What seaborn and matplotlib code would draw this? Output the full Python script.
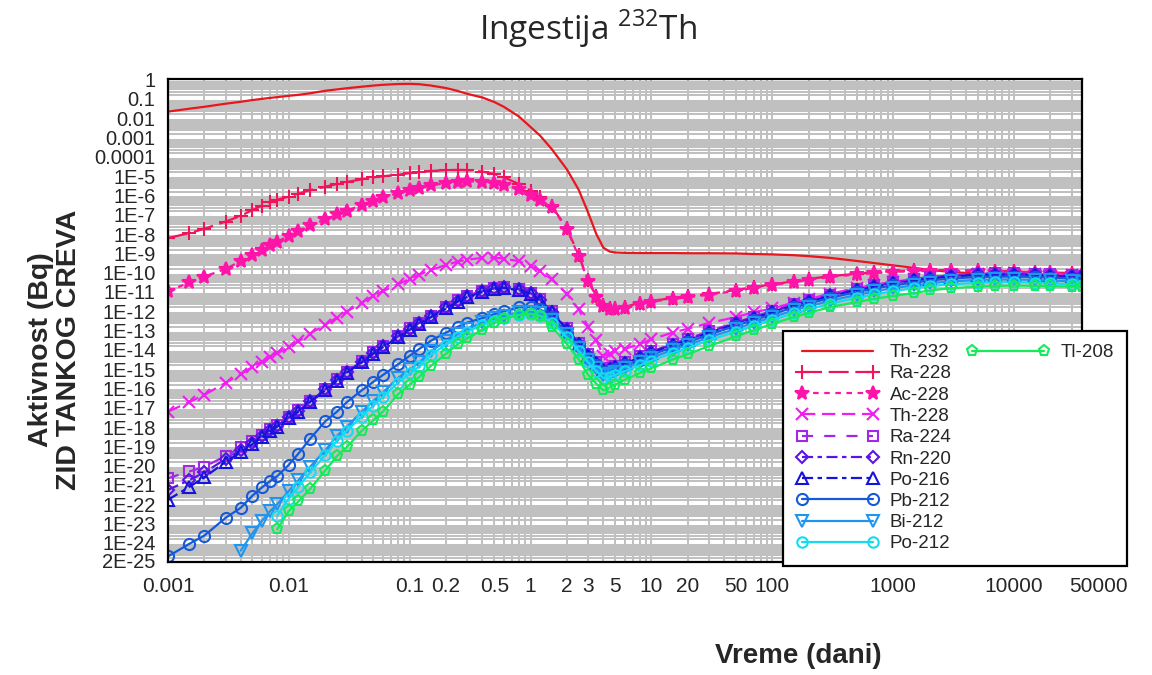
import numpy as np
import pandas as pd
import matplotlib
matplotlib.use("Agg")
import matplotlib.pyplot as plt
import matplotlib.transforms as mtransforms
import seaborn as sns
from matplotlib.ticker import FixedLocator, FixedFormatter, LogLocator, NullFormatter
from matplotlib.lines import Line2D

# ---------------- data (time in days, activity as log10 of Bq) ----------------
time_days = [0.001, 0.0015, 0.002, 0.003, 0.004, 0.005, 0.006, 0.007, 0.008, 0.01,
             0.012, 0.015, 0.02, 0.025, 0.03, 0.04, 0.05, 0.06, 0.08, 0.1,
             0.12, 0.15, 0.2, 0.25, 0.3, 0.4, 0.5, 0.6, 0.8, 1,
             1.2, 1.5, 2, 2.5, 3, 3.5, 4, 4.5, 5, 6,
             8, 10, 15, 20, 30, 50, 70, 100, 150, 200,
             300, 500, 700, 1000, 1500, 2000, 3000, 5000, 7000, 10000,
             15000, 20000, 30000, 36500]

nan = float("nan")

th232_log = [-1.55, -1.40, -1.30, -1.14, -1.04, -0.95, -0.89, -0.84, -0.80, -0.73,
             -0.68, -0.60, -0.47, -0.40, -0.34, -0.26, -0.20, -0.16, -0.12, -0.11,
             -0.13, -0.20, -0.33, -0.48, -0.63, -0.82, -1.05, -1.30, -1.80, -2.35,
             -2.80, -3.50, -4.55, -5.60, -6.80, -7.90, -8.60, -8.80, -8.85, -8.87,
             -8.88, -8.88, -8.88, -8.89, -8.89, -8.90, -8.93, -8.95, -8.99, -9.04,
             -9.13, -9.29, -9.40, -9.52, -9.65, -9.75, -9.86, -9.95, -10.0, -10.03,
             -10.06, -10.08, -10.10, -10.10]

ra228_log = [-8.10, -7.85, -7.62, -7.25, -6.95, -6.65, -6.42, -6.25, -6.12, -5.95,
             -5.80, -5.62, -5.44, -5.30, -5.20, -5.06, -4.96, -4.90, -4.82, -4.74,
             -4.68, -4.63, -4.58, -4.57, -4.58, -4.66, -4.78, -4.95, -5.30, -5.65,
             -6.00, -6.45, -7.60, -9.00, -10.30, -11.10, -11.55, -11.72, -11.74, -11.68,
             -11.45, -11.35, -11.22, -11.13, -11.00, -10.80, -10.65, -10.50, -10.35, -10.22,
             -10.08, -9.95, -9.88, -9.82, -9.78, -9.77, -9.77, -9.78, -9.80, -9.83,
             -9.86, -9.88, -9.92, -9.93]

ac228_log = [-10.87, -10.40, -10.10, -9.70, -9.30, -8.97, -8.70, -8.47, -8.30, -7.98,
             -7.72, -7.44, -7.14, -6.88, -6.68, -6.40, -6.17, -6.00, -5.78, -5.62,
             -5.50, -5.37, -5.25, -5.19, -5.16, -5.18, -5.24, -5.33, -5.55, -5.85,
             -6.12, -6.50, -7.65, -9.05, -10.35, -11.15, -11.60, -11.76, -11.78, -11.72,
             -11.50, -11.40, -11.26, -11.17, -11.04, -10.84, -10.69, -10.54, -10.39, -10.26,
             -10.12, -9.99, -9.92, -9.86, -9.82, -9.81, -9.81, -9.82, -9.84, -9.87,
             -9.90, -9.92, -9.96, -9.97]

th228_log = [-17.10, -16.60, -16.23, -15.60, -15.15, -14.78, -14.50, -14.25, -14.08, -13.75,
             -13.45, -13.05, -12.60, -12.22, -11.92, -11.45, -11.10, -10.85, -10.50, -10.22,
             -10.00, -9.75, -9.50, -9.32, -9.22, -9.13, -9.12, -9.17, -9.30, -9.55,
             -9.80, -10.25, -11.00, -11.80, -12.70, -13.40, -14.20, -14.10, -13.95, -13.85,
             -13.60, -13.35, -13.00, -12.80, -12.50, -12.20, -11.95, -11.75, -11.45, -11.27,
             -10.98, -10.70, -10.52, -10.37, -10.22, -10.13, -10.04, -9.97, -9.95, -9.95,
             -9.97, -10.00, -10.04, -10.06]

ra224_log = [-20.55, -20.20, -19.95, -19.40, -18.95, -18.60, -18.30, -18.00, -17.80, -17.38,
             -17.03, -16.53, -15.93, -15.43, -15.03, -14.48, -14.03, -13.68, -13.18, -12.78,
             -12.48, -12.13, -11.68, -11.33, -11.08, -10.83, -10.68, -10.63, -10.73, -10.93,
             -11.28, -11.88, -12.78, -13.53, -14.13, -14.53, -14.88, -14.83, -14.73, -14.53,
             -14.23, -13.98, -13.58, -13.33, -12.93, -12.48, -12.18, -11.88, -11.53, -11.33,
             -11.03, -10.73, -10.55, -10.38, -10.23, -10.13, -10.03, -9.95, -9.93, -9.93,
             -9.95, -9.98, -10.03, -10.05]

rn220_log = [-21.15, -20.65, -20.25, -19.55, -19.10, -18.72, -18.35, -18.05, -17.83, -17.40,
             -17.05, -16.55, -15.95, -15.45, -15.05, -14.50, -14.05, -13.70, -13.20, -12.80,
             -12.50, -12.15, -11.70, -11.36, -11.11, -10.86, -10.71, -10.66, -10.76, -10.96,
             -11.31, -11.91, -12.82, -13.57, -14.17, -14.57, -14.92, -14.87, -14.77, -14.57,
             -14.27, -14.02, -13.62, -13.37, -12.97, -12.52, -12.22, -11.92, -11.57, -11.37,
             -11.07, -10.77, -10.59, -10.42, -10.27, -10.17, -10.07, -9.99, -9.97, -9.97,
             -9.99, -10.02, -10.07, -10.09]

po216_log = [-21.67, -21.00, -20.50, -19.70, -19.20, -18.78, -18.40, -18.10, -17.88, -17.45,
             -17.10, -16.60, -16.00, -15.50, -15.10, -14.55, -14.10, -13.75, -13.25, -12.85,
             -12.55, -12.20, -11.75, -11.40, -11.15, -10.90, -10.75, -10.70, -10.80, -11.00,
             -11.35, -11.95, -12.85, -13.60, -14.20, -14.60, -14.95, -14.90, -14.80, -14.60,
             -14.30, -14.05, -13.65, -13.40, -13.00, -12.55, -12.25, -11.95, -11.60, -11.40,
             -11.10, -10.80, -10.62, -10.45, -10.30, -10.20, -10.10, -10.02, -10.00, -10.00,
             -10.02, -10.05, -10.10, -10.12]

pb212_log = [-24.60, -23.95, -23.52, -22.60, -22.08, -21.45, -21.02, -20.70, -20.45, -19.85,
             -19.27, -18.50, -17.60, -17.10, -16.62, -16.00, -15.55, -15.20, -14.65, -14.20,
             -13.85, -13.42, -13.00, -12.70, -12.48, -12.25, -12.05, -11.90, -11.70, -11.68,
             -11.80, -12.20, -13.00, -13.70, -14.30, -14.70, -15.05, -15.00, -14.90, -14.70,
             -14.40, -14.15, -13.75, -13.50, -13.10, -12.65, -12.35, -12.05, -11.70, -11.50,
             -11.20, -10.90, -10.72, -10.55, -10.40, -10.30, -10.20, -10.12, -10.10, -10.10,
             -10.12, -10.15, -10.20, -10.22]

bi212_log = [nan, nan, nan, nan, -24.30, -23.40, -22.75, -22.25, -21.90, -21.20,
             -20.65, -19.95, -19.10, -18.35, -17.90, -17.10, -16.55, -16.10, -15.35, -14.90,
             -14.55, -13.95, -13.45, -13.07, -12.80, -12.47, -12.25, -12.12, -11.95, -11.92,
             -12.00, -12.35, -13.10, -13.80, -14.40, -14.85, -15.20, -15.15, -15.05, -14.85,
             -14.55, -14.30, -13.90, -13.65, -13.25, -12.80, -12.50, -12.20, -11.85, -11.65,
             -11.35, -11.05, -10.87, -10.70, -10.55, -10.45, -10.35, -10.27, -10.25, -10.25,
             -10.27, -10.30, -10.35, -10.37]

po212_log = [nan, nan, nan, nan, nan, nan, nan, nan, -22.50, -21.60,
             -21.00, -20.25, -19.35, -18.60, -18.10, -17.35, -16.78, -16.33, -15.60, -15.12,
             -14.75, -14.15, -13.62, -13.22, -12.95, -12.60, -12.38, -12.25, -12.07, -12.05,
             -12.12, -12.50, -13.25, -13.95, -14.55, -15.00, -15.35, -15.30, -15.20, -15.00,
             -14.70, -14.45, -14.05, -13.80, -13.40, -12.95, -12.65, -12.35, -12.00, -11.80,
             -11.50, -11.20, -11.02, -10.85, -10.70, -10.60, -10.50, -10.42, -10.40, -10.40,
             -10.42, -10.45, -10.50, -10.52]

tl208_log = [nan, nan, nan, nan, nan, nan, nan, nan, -23.20, -22.25,
             -21.75, -21.10, -20.15, -19.40, -18.95, -18.10, -17.55, -17.10, -16.20, -15.70,
             -15.30, -14.72, -14.10, -13.60, -13.30, -12.85, -12.48, -12.28, -12.10, -12.02,
             -12.15, -12.70, -13.60, -14.40, -15.20, -15.65, -16.00, -15.85, -15.70, -15.45,
             -15.10, -14.85, -14.40, -14.12, -13.70, -13.20, -12.88, -12.55, -12.20, -11.98,
             -11.68, -11.42, -11.25, -11.10, -10.95, -10.82, -10.70, -10.62, -10.58, -10.57,
             -10.58, -10.60, -10.62, -10.63]

nuclides = ["Th-232", "Ra-228", "Ac-228", "Th-228", "Ra-224", "Rn-220",
            "Po-216", "Pb-212", "Bi-212", "Po-212", "Tl-208"]

x_tick_values = [0.001, 0.01, 0.1, 0.2, 0.5, 1, 2, 3, 5, 10, 20, 50, 100, 1000, 10000]
x_tick_labels = ["0.001", "0.01", "0.1", "0.2", "0.5", "1", "2", "3", "5", "10",
                 "20", "50", "100", "1000", "10000"]
x_extra_label = 50000

y_tick_values = [1, 0.1, 0.01, 0.001, 0.0001] + [10.0 ** -k for k in range(5, 25)] + [2e-25]
y_tick_labels = ["1", "0.1", "0.01", "0.001", "0.0001"] + ["1E-%d" % k for k in range(5, 25)] + ["2E-25"]

# ---------------- styles ----------------
styles = {
    "Th-232": dict(color="#e8161e", marker=None, ls="-", ms=0, filled=False),
    "Ra-228": dict(color="#f0145a", marker="+", ls=(0, (9, 3)), ms=10, filled=False),
    "Ac-228": dict(color="#ff14aa", marker="*", ls=(0, (2.5, 2.5)), ms=10, filled=True),
    "Th-228": dict(color="#f01ef0", marker="x", ls=(0, (6, 3)), ms=8, filled=False),
    "Ra-224": dict(color="#a028e6", marker="s", ls=(0, (5, 5)), ms=7, filled=False),
    "Rn-220": dict(color="#5a14e6", marker="D", ls=(0, (5, 2, 2, 2)), ms=6.5, filled=False),
    "Po-216": dict(color="#1414dc", marker="^", ls=(0, (5, 2, 2, 2)), ms=8, filled=False),
    "Pb-212": dict(color="#145ad9", marker="o", ls="-", ms=8, filled=False),
    "Bi-212": dict(color="#1e96f0", marker="v", ls="-", ms=8, filled=False),
    "Po-212": dict(color="#14dcf0", marker="o", ls="-", ms=7.5, filled=False),
    "Tl-208": dict(color="#14eb5a", marker="p", ls="-", ms=8, filled=False),
}
values = {
    "Th-232": th232_log, "Ra-228": ra228_log, "Ac-228": ac228_log, "Th-228": th228_log,
    "Ra-224": ra224_log, "Rn-220": rn220_log, "Po-216": po216_log, "Pb-212": pb212_log,
    "Bi-212": bi212_log, "Po-212": po212_log, "Tl-208": tl208_log,
}

sns.set_theme(style="white")
plt.rcParams["font.family"] = ["Liberation Sans", "DejaVu Sans"]

W, H = 1152, 675
fig = plt.figure(figsize=(W / 100, H / 100), dpi=100)
L, R, T, B = 168, 1082, 79, 562
ax = fig.add_axes([L / W, 1 - B / H, (R - L) / W, (B - T) / H])
ax.set_xscale("log")
ax.set_yscale("log")
ax.set_facecolor("white")

handles = {}
for name in nuclides:
    st = styles[name]
    t = np.array(time_days, dtype=float)
    v = np.array(values[name], dtype=float)
    ok = ~np.isnan(v)
    df = pd.DataFrame({"Vreme": t[ok], "Aktivnost": 10.0 ** v[ok]})
    kw = dict(color=st["color"], linestyle=st["ls"], linewidth=1.6)
    if st["marker"] is not None:
        kw.update(marker=st["marker"], markersize=st["ms"], markeredgewidth=1.5,
                  markeredgecolor=st["color"],
                  markerfacecolor=st["color"] if st["filled"] else "none")
    n_before = len(ax.lines)
    sns.lineplot(data=df, x="Vreme", y="Aktivnost", ax=ax, estimator=None,
                 errorbar=None, sort=True, **kw)
    line = ax.lines[n_before]
    line.set_label(name)
    handles[name] = line

# axes limits
ax.set_xlim(0.001, 36500)
ax.set_ylim(10 ** -24.89, 10 ** 0.14)

# grid: dense grey log grid on white
ax.xaxis.set_major_locator(FixedLocator(x_tick_values))
ax.xaxis.set_major_formatter(FixedFormatter(x_tick_labels))
ax.xaxis.set_minor_locator(LogLocator(base=10, subs=np.arange(2, 10), numticks=200))
ax.xaxis.set_minor_formatter(NullFormatter())
ax.yaxis.set_major_locator(FixedLocator(y_tick_values))
ax.yaxis.set_major_formatter(FixedFormatter(y_tick_labels))
ax.yaxis.set_minor_locator(LogLocator(base=10, subs=np.arange(2, 10), numticks=200))
ax.yaxis.set_minor_formatter(NullFormatter())
ax.set_axisbelow(True)
ax.grid(True, which="both", axis="both", color="#c0c0c0", linewidth=1.45, linestyle="-")

ax.tick_params(axis="both", which="both", length=0)
ax.tick_params(axis="x", which="major", labelsize=15, pad=11)
ax.tick_params(axis="y", which="major", labelsize=14.5, pad=9)
for sp in ax.spines.values():
    sp.set_visible(True)
    sp.set_color("black")
    sp.set_linewidth(1.6)

# the lowest y label sits just under "1E-24": nudge it down a few pixels
fig.canvas.draw()
ylabels = ax.get_yticklabels()
ylabels[-1].set_transform(ylabels[-1].get_transform() +
                          mtransforms.ScaledTranslation(0, -4 / 100, fig.dpi_scale_trans))
for lab in ylabels:
    lab.set_va("center")

ax.annotate(str(x_extra_label), xy=(x_extra_label, 0), xycoords=("data", "axes fraction"),
            xytext=(0, -11), textcoords="offset points", ha="center", va="top",
            fontsize=15, annotation_clip=False)

# labels
ax.set_xlabel("Vreme (dani)", fontsize=20, fontweight="bold")
ax.xaxis.set_label_coords((798 - L) / (R - L), (B - 643) / (B - T))
ax.set_ylabel("Aktivnost (Bq)\nZID TANKOG CREVA", fontsize=20.5, fontweight="bold",
              linespacing=1.05, multialignment="center")
ax.yaxis.set_label_coords((55 - L) / (R - L), (B - 350) / (B - T))
ax.yaxis.label.set_va("center")

ax.set_title(r"Ingestija $^{\mathregular{232}}$Th", fontsize=24, family=["Open Sans", "DejaVu Sans"],
             x=(588 - L) / (R - L), y=1 + (T - 37) / (B - T), va="center")

# legend: 2 columns, first holds 10 entries, second only Tl-208
blank = Line2D([], [], linestyle="none", marker="")
leg_handles = [handles[n] for n in nuclides[:10]] + [handles["Tl-208"]] + [blank] * 9
leg_labels = nuclides[:10] + ["Tl-208"] + [" "] * 9
leg = ax.legend(leg_handles, leg_labels, ncol=2, loc="upper left",
                bbox_to_anchor=(783 / W, 1 - 331 / H), bbox_transform=fig.transFigure,
                borderaxespad=0, fontsize=13.5, numpoints=2, handlelength=4.4,
                handletextpad=0.6, columnspacing=0.8, labelspacing=0.22,
                borderpad=0.7, frameon=True, fancybox=False, framealpha=1)
leg.get_frame().set_edgecolor("black")
leg.get_frame().set_linewidth(1.6)

fig.savefig("out.png", dpi=100)
